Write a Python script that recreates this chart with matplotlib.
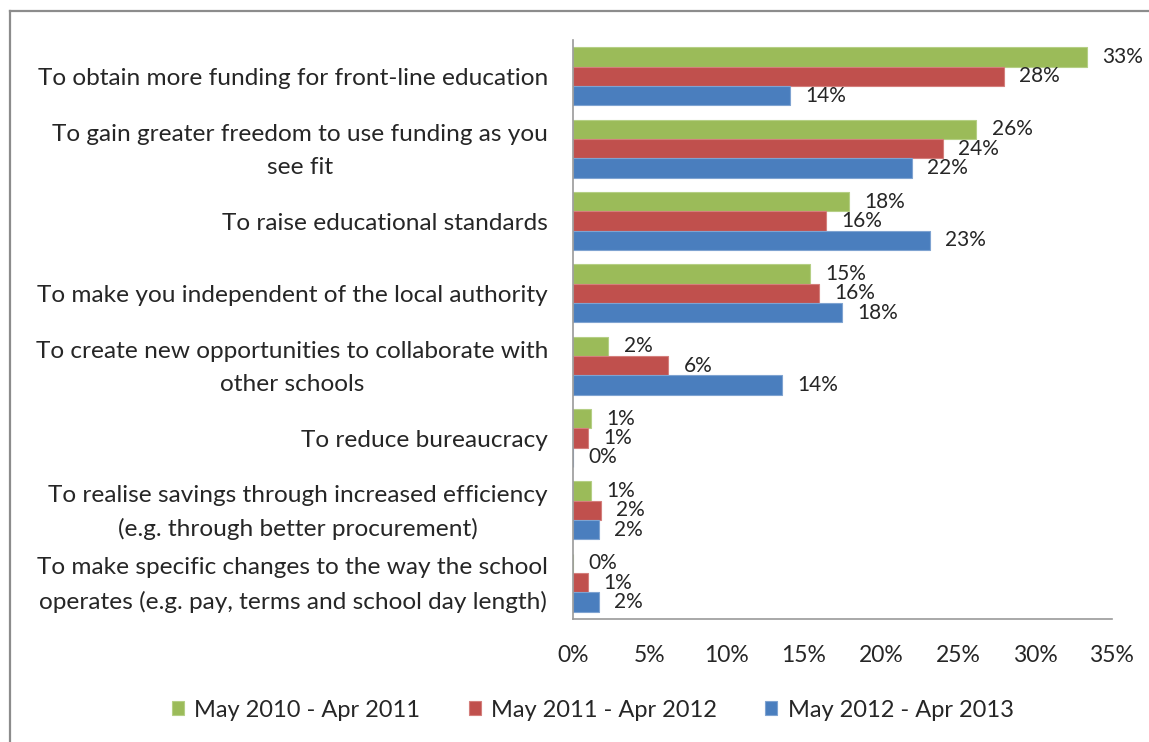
import numpy as np
import matplotlib
matplotlib.use("Agg")
import matplotlib.pyplot as plt
from matplotlib.lines import Line2D

plt.rcParams['font.family'] = ['Lato', 'DejaVu Sans']

categories = [
    "To obtain more funding for front-line education",
    "To gain greater freedom to use funding as you\nsee fit",
    "To raise educational standards",
    "To make you independent of the local authority",
    "To create new opportunities to collaborate with\nother schools",
    "To reduce bureaucracy",
    "To realise savings through increased efficiency\n(e.g. through better procurement)",
    "To make specific changes to the way the school\noperates (e.g. pay, terms and school day length)",
]
series_names = ["May 2010 - Apr 2011", "May 2011 - Apr 2012", "May 2012 - Apr 2013"]
vals_2010 = [33.4, 26.2, 17.9, 15.4, 2.3, 1.2, 1.2, 0.0]
vals_2011 = [28.0, 24.0, 16.4, 16.0, 6.2, 1.0, 1.8, 1.0]
vals_2012 = [14.1, 22.0, 23.2, 17.5, 13.6, 0.0, 1.7, 1.7]
xticks = [0, 5, 10, 15, 20, 25, 30, 35]

colors = ["#9BBB59", "#C0504D", "#4A7EBE"]
edges = ["#B5CF85", "#D47F7C", "#7FA3D1"]
text_color = "#262626"

fig = plt.figure(figsize=(11.49, 7.42), dpi=100)
ax = fig.add_axes([0.4987, 0.1658, 0.4690, 0.7803])

n = len(categories)
y = np.arange(n)
h = 0.267
all_vals = [vals_2010, vals_2011, vals_2012]
for k, (vals, name) in enumerate(zip(all_vals, series_names)):
    pos = y + (k - 1) * h
    ax.barh(pos, vals, height=h, color=colors[k], edgecolor=edges[k],
            linewidth=0.8, label=name)
    for p, v in zip(pos, vals):
        ax.annotate(f"{v:.0f}%", (v, p), xytext=(11, 0), textcoords="offset points",
                    ha="left", va="center", fontsize=15, color=text_color)

ax.set_ylim(n - 0.5, -0.5)
ax.set_xlim(0, 35)
ax.set_yticks(y)
ax.set_yticklabels([])
# category names as plain text, right-aligned against the axis
for yi, cat in zip(y, categories):
    ax.annotate(cat, xy=(0, yi), xycoords=("axes fraction", "data"),
                xytext=(-18, -1.5), textcoords="offset points", ha="right", va="center",
                multialignment="center", linespacing=1.7, fontsize=17.6, color=text_color)
ax.set_xticks(xticks)
ax.set_xticklabels([f"{t}%" for t in xticks], fontsize=16.5, color=text_color)
ax.tick_params(axis="y", length=0)
ax.tick_params(axis="x", length=0, pad=19)
for s in ["top", "right"]:
    ax.spines[s].set_visible(False)
for s in ["left", "bottom"]:
    ax.spines[s].set_color("#9A9A9A")
    ax.spines[s].set_linewidth(1.2)

fig.legend(loc="center", bbox_to_anchor=(0.516, 0.043), ncol=3, frameon=False,
           fontsize=17, handlelength=0.5, handleheight=0.5, handletextpad=0.45,
           columnspacing=2.05, labelcolor=text_color)

# outer chart frame
bx, by = 10 / 1149, 1 - 11 / 742
fig.add_artist(Line2D([bx, bx], [0, by], transform=fig.transFigure, color="#8C8C8C", lw=1.6))
fig.add_artist(Line2D([bx, 1], [by, by], transform=fig.transFigure, color="#8C8C8C", lw=1.6))

fig.savefig("out.png", dpi=100)
